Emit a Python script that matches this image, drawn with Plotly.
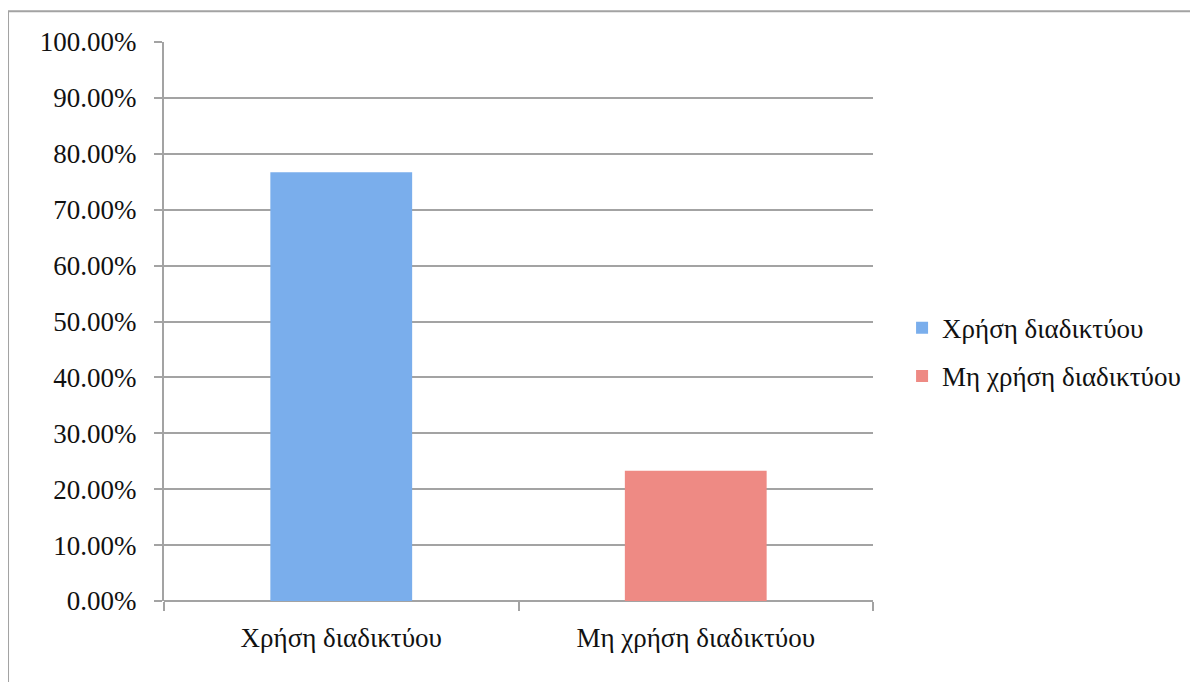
import plotly.graph_objects as go

categories = ["Χρήση διαδικτύου", "Μη χρήση διαδικτύου"]
series_names = ["Χρήση διαδικτύου", "Μη χρήση διαδικτύου"]
values = [0.767, 0.233]
colors = ["#7aaeec", "#ee8a84"]
tick_vals = [0, 0.1, 0.2, 0.3, 0.4, 0.5, 0.6, 0.7, 0.8, 0.9, 1.0]

FONT = "Liberation Serif"
GRID = "#a3a3a3"

fig = go.Figure()
for i, (name, cat, val, col) in enumerate(zip(series_names, categories, values, colors)):
    fig.add_trace(go.Bar(
        x=[cat], y=[val], name=name,
        marker=dict(color=col, line=dict(width=0)),
        width=0.4, legendgroup=f"g{i}",
    ))

fig.update_layout(
    width=1198, height=682,
    margin=dict(l=156, r=333, t=34, b=89),
    paper_bgcolor="white", plot_bgcolor="white",
    font=dict(family=FONT, size=27, color="#111111"),
    barmode="overlay",
    showlegend=True,
    legend=dict(x=1.041, y=0.445, xanchor="left", yanchor="middle",
                font=dict(family=FONT, size=27, color="#111111"),
                tracegroupgap=10, itemwidth=30, bgcolor="rgba(0,0,0,0)"),
    xaxis=dict(
        categoryorder="array", categoryarray=categories,
        showgrid=False, showline=False, zeroline=False,
        ticks="outside", tickson="boundaries", ticklen=9, tickwidth=2,
        tickcolor=GRID, tickfont=dict(family=FONT, size=27),
        ticklabelstandoff=18,
    ),
    yaxis=dict(
        range=[0, 1.0], tickvals=tick_vals, tickformat=".2%",
        showgrid=True, gridcolor=GRID, gridwidth=2,
        showline=True, linecolor=GRID, linewidth=2,
        zeroline=True, zerolinecolor=GRID, zerolinewidth=2,
        ticks="outside", ticklen=8, tickwidth=2, tickcolor=GRID,
        tickfont=dict(family=FONT, size=27),
        ticklabelstandoff=12,
    ),
    shapes=[dict(type="rect", xref="paper", yref="paper",
                 x0=-0.22, x1=1.6, y0=-0.3, y1=1.055,
                 line=dict(color=GRID, width=2), fillcolor="rgba(0,0,0,0)",
                 layer="below")],
)

fig.write_html("out.html")
